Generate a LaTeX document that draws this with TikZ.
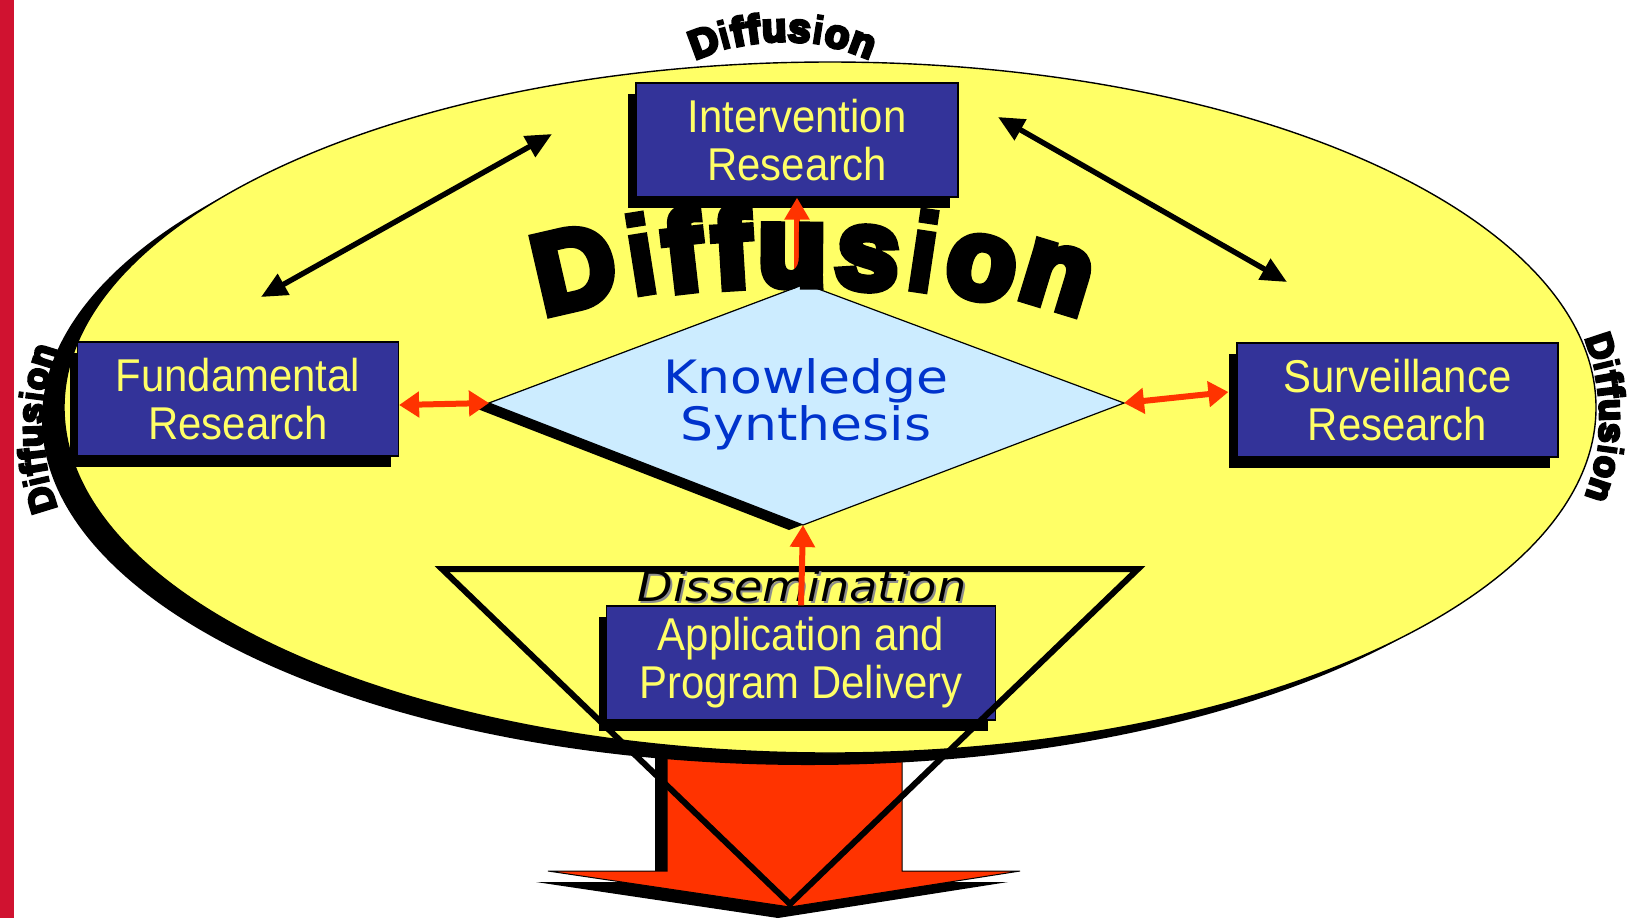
\documentclass[tikz,border=0pt]{standalone}
\usepackage{fontspec}
\setmainfont{Liberation Sans}
\usetikzlibrary{arrows.meta,shadows,calc}
\newfontfamily\boxfont[FakeStretch=0.91]{Liberation Sans}
\newfontfamily\ksfont[FakeStretch=1.13]{DejaVu Sans}
\newfontfamily\dissfont[FakeStretch=1.1]{DejaVu Sans}
\newfontfamily\heavyfont[FakeBold=8]{Liberation Sans Bold}
\newfontfamily\heavyi[FakeBold=3.5]{Liberation Sans Bold}
\definecolor{ellyellow}{HTML}{FFFF66}
\definecolor{boxblue}{HTML}{333399}
\definecolor{boxtext}{HTML}{FFFF66}
\definecolor{kfill}{HTML}{CCECFF}
\definecolor{ktext}{HTML}{0033CC}
\definecolor{arrred}{HTML}{FF3300}
\definecolor{barred}{RGB}{208,18,48}
\begin{document}
\begin{tikzpicture}[x=0.5pt,y=-0.5pt,
  resbox/.style={draw=black, line width=0.6pt, fill=boxblue, text=boxtext, align=center,
    inner sep=0pt, font=\boxfont\fontsize{23}{24}\selectfont, minimum height=57pt,
    drop shadow={opacity=1, fill=black, shadow xshift=-4pt, shadow yshift=-5.5pt}},
  redd/.style={draw=arrred, line width=3pt, {Triangle[length=10pt,width=12.5pt]}-{Triangle[length=10pt,width=12.5pt]}},
  redu/.style={draw=arrred, line width=3pt, -{Triangle[length=11pt,width=12pt]}},
  blkarr/.style={draw=black, line width=2.7pt, {Triangle[length=13pt,width=11.5pt]}-{Triangle[length=13pt,width=11.5pt]}},
  bigletter/.style={inner sep=0pt, anchor=base, font=\heavyfont\fontsize{56}{56}\selectfont},
  toplet/.style={inner sep=0pt, anchor=base, font=\heavyfont\fontsize{20}{20}\selectfont},
  sidelet/.style={inner sep=0pt, anchor=base, font=\heavyfont\fontsize{18}{18}\selectfont},
  dissem/.style={inner sep=0pt, anchor=base, font=\dissfont\itshape\fontsize{21}{21}\selectfont}
]
\useasboundingbox (0,0) rectangle (1630,918);
% left red bar
\fill[barred] (0,0) rectangle (14,918);
% big red arrow (shadow + body)
\fill[black] (655,751) -- (655,882) -- (536,882) -- (778,918) -- (1008,882) -- (890,882) -- (890,751) -- cycle;
\filldraw[fill=arrred, draw=black, line width=0.5pt] (667,740) -- (667,871) -- (548,871) -- (790,907) -- (1020,871) -- (902,871) -- (902,740) -- cycle;
% ellipse
\fill[black] (808,419.5) ellipse [x radius=383pt, y radius=172.75pt];
\filldraw[fill=ellyellow, draw=black, line width=0.7pt] (830,407.5) ellipse [x radius=383pt, y radius=172.75pt];
% small arched labels
\foreach \lt/\ps [count=\kk] in {D/-2.028,{\heavyi i}/-1.5005,f/-1.1395,f/-0.7505,u/-0.2225,s/0.4165,{\heavyi i}/0.8885,o/1.3885,n/2.0555}{
  \pgfmathsetmacro\tht{deg(\ps*40/229)}
  \node[toplet, rotate=-\tht] (topd\kk) at ({783+214.7*sin(\tht)},{256-214.7*cos(\tht)}) {\lt};
}
\foreach \lt/\ps [count=\kk] in {D/-2.028,{\heavyi i}/-1.5005,f/-1.1395,f/-0.7505,u/-0.2225,s/0.4165,{\heavyi i}/0.8885,o/1.3885,n/2.0555}{
  \pgfmathsetmacro\tht{deg(\ps*36/245)}
  \node[sidelet, rotate=90-\tht] (leftd\kk) at ({275-232*cos(\tht)},{428-232*sin(\tht)}) {\lt};
}
\foreach \lt/\ps [count=\kk] in {D/-2.028,{\heavyi i}/-1.5005,f/-1.1395,f/-0.7505,u/-0.2225,s/0.4165,{\heavyi i}/0.8885,o/1.3885,n/2.0555}{
  \pgfmathsetmacro\tht{deg(\ps*36/230)}
  \node[sidelet, rotate=-90-\tht] (rightd\kk) at ({1383+217*cos(\tht)},{418+217*sin(\tht)}) {\lt};
}
% black double arrows
\coordinate (la1) at (261,297); \coordinate (la2) at (552,134);
\coordinate (ra1) at (998,117); \coordinate (ra2) at (1287,282);
\draw[blkarr] (la1) -- (la2);
\draw[blkarr] (ra1) -- (ra2);
% knowledge synthesis diamond
\coordinate (kn) at (805,284); \coordinate (ke) at (1124,403);
\coordinate (ks) at (803,525); \coordinate (kw) at (489,403);
\fill[black] ($(kn)+(-14,5)$) -- ($(ke)+(-14,5)$) -- ($(ks)+(-14,5)$) -- ($(kw)+(-14,5)$) -- cycle;
\filldraw[fill=kfill, draw=black, line width=0.6pt] (kn) -- (ke) -- (ks) -- (kw) -- cycle;
\node[text=ktext, align=center, inner sep=0pt, font=\ksfont\fontsize{23}{23.5}\selectfont] (knowledge) at (806,404) {Knowledge\\Synthesis};
% research boxes
\node[resbox, minimum width=161pt] (intervention) at (797,140) {Intervention\\Research};
\node[resbox, minimum width=160.5pt] (fundamental) at (238,399) {Fundamental\\Research};
\node[resbox, minimum width=160.5pt] (surveillance) at (1397.5,400) {Surveillance\\Research};
\node[resbox, minimum width=194.5pt] (application) at (801,663) {Application and\\Program Delivery};
% red arrows
\draw[redd] ($(fundamental.east)+(0,6)$) -- (kw);
\draw[redd] (ke) -- ($(surveillance.west)+(-8,-8)$);
\draw[redu] (intervention.south |- kn) -- (intervention.south);
% big arched Diffusion
\foreach \lt/\xx/\yy/\rr [count=\kk] in {D/583/306/13, {\heavyi i}/647/294/9, f/687/290/6.5, f/734/287/3.5, u/792/285/-0.5, s/865/288/-5, {\heavyi i}/918/291/-8.5, o/975/297/-12, n/1048/306/-17}{
  \node[bigletter, rotate=\rr] (big\kk) at (\xx,\yy) {\lt};
}
% dissemination triangle
\coordinate (tri1) at (442,569); \coordinate (tri2) at (1138,569); \coordinate (tri3) at (790,904);
\draw[line width=3pt, line join=miter] (tri1) -- (tri2) -- (tri3) -- cycle;
\node[dissem, text=black!45] (dissshadow) at (804,603) {Dissemination};
\node[dissem] (dissemination) at (802,601) {Dissemination};
\draw[redu] (application.north) -- (ks);
\end{tikzpicture}
\end{document}
